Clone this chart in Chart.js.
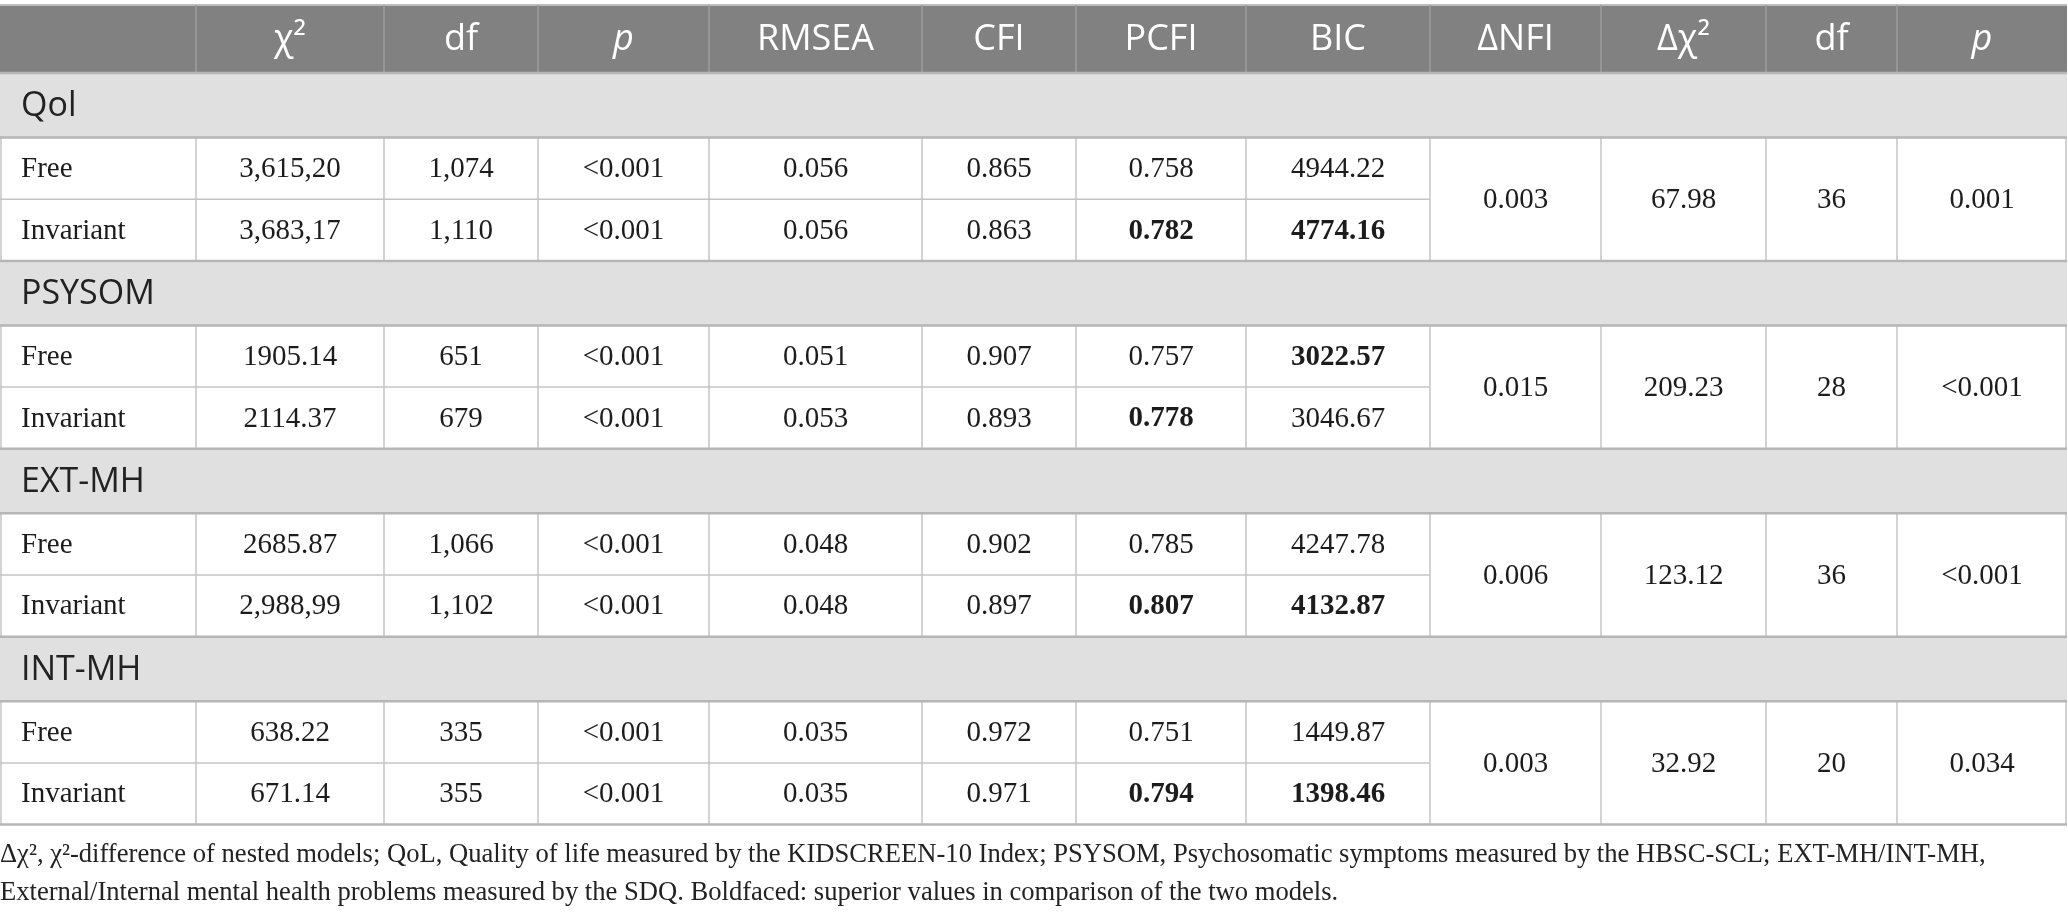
<!DOCTYPE html>
<html>
<head>
<meta charset="utf-8">
<script src="https://cdn.jsdelivr.net/npm/chart.js@4.4.0/dist/chart.umd.min.js"></script>
<style>
  html, body { margin: 0; padding: 0; background: #fff; }
  canvas { display: block; }
</style>
</head>
<body>
<canvas id="myChart" width="2068" height="924"></canvas>
<script>
// Table content
var headers = ['', 'χ²', 'df', 'p', 'RMSEA', 'CFI', 'PCFI', 'BIC', 'ΔNFI', 'Δχ²', 'df', 'p'];
var italicHeaders = [3, 11];
var groups = ['Qol', 'PSYSOM', 'EXT-MH', 'INT-MH'];
var models = ['Free', 'Invariant'];

var chiSq = [['3,615,20', '3,683,17'], ['1905.14', '2114.37'], ['2685.87', '2,988,99'], ['638.22', '671.14']];
var df = [['1,074', '1,110'], ['651', '679'], ['1,066', '1,102'], ['335', '355']];
var pValue = [['<0.001', '<0.001'], ['<0.001', '<0.001'], ['<0.001', '<0.001'], ['<0.001', '<0.001']];
var rmsea = [['0.056', '0.056'], ['0.051', '0.053'], ['0.048', '0.048'], ['0.035', '0.035']];
var cfi = [['0.865', '0.863'], ['0.907', '0.893'], ['0.902', '0.897'], ['0.972', '0.971']];
var pcfi = [['0.758', '0.782'], ['0.757', '0.778'], ['0.785', '0.807'], ['0.751', '0.794']];
var bic = [['4944.22', '4774.16'], ['3022.57', '3046.67'], ['4247.78', '4132.87'], ['1449.87', '1398.46']];
// index of the boldfaced (superior) model per group
var pcfiBest = [1, 1, 1, 1];
var bicBest = [1, 0, 1, 1];

var deltaNfi = ['0.003', '0.015', '0.006', '0.003'];
var deltaChiSq = ['67.98', '209.23', '123.12', '32.92'];
var deltaDf = ['36', '28', '36', '20'];
var deltaP = ['0.001', '<0.001', '<0.001', '0.034'];

var footnote = [
  'Δχ², χ²-difference of nested models; QoL, Quality of life measured by the KIDSCREEN-10 Index; PSYSOM, Psychosomatic symptoms measured by the HBSC-SCL; EXT-MH/INT-MH,',
  'External/Internal mental health problems measured by the SDQ. Boldfaced: superior values in comparison of the two models.'
];

// layout (in scale units, 1 unit = 1 px)
var colEdges = [0, 196, 384, 538, 709, 922, 1076, 1246, 1430, 1601, 1766, 1897, 2067];
var tableTop = 5;
var headerH = 68;
var sectionH = 64.5;
var rowH = 61.7;

var sansFont = '"Open Sans", "Noto Sans", sans-serif';
var serifFont = '"Liberation Serif", "DejaVu Serif", serif';

var tablePlugin = {
  id: 'tableDraw',
  afterDraw: function(chart) {
    var ctx = chart.ctx;
    var xs = chart.scales.x, ys = chart.scales.y;
    function X(v) { return xs.getPixelForValue(v); }
    function Y(v) { return ys.getPixelForValue(v); }
    function rect(x0, y0, x1, y1, color) {
      ctx.fillStyle = color;
      ctx.fillRect(X(x0), Y(y0), X(x1) - X(x0), Y(y1) - Y(y0));
    }
    function line(x0, y0, x1, y1, color, w) {
      ctx.strokeStyle = color;
      ctx.lineWidth = w;
      ctx.beginPath();
      ctx.moveTo(X(x0), Y(y0));
      ctx.lineTo(X(x1), Y(y1));
      ctx.stroke();
    }
    function text(str, x, y, font, color, align) {
      ctx.font = font;
      ctx.fillStyle = color;
      ctx.textAlign = align || 'center';
      ctx.textBaseline = 'middle';
      ctx.fillText(str, X(x), Y(y));
    }
    function mid(c) { return (colEdges[c] + colEdges[c + 1]) / 2; }
    var left = colEdges[0], right = colEdges[colEdges.length - 1];

    ctx.save();
    // header
    var hb = tableTop + headerH;
    rect(left, tableTop, right, hb, '#808180');
    line(left, tableTop, right, tableTop, '#bdbdbd', 2);
    for (var c = 1; c < colEdges.length - 1; c++) {
      line(colEdges[c], tableTop, colEdges[c], hb, '#9d9e9d', 1.5);
    }
    for (var h = 1; h < headers.length; h++) {
      var st = italicHeaders.indexOf(h) >= 0 ? 'italic ' : '';
      text(headers[h], mid(h), tableTop + headerH / 2 + 1, st + '400 36px ' + sansFont, '#ffffff');
    }

    var y = hb;
    var dataFont = '400 29px ' + serifFont;
    var boldFont = '700 29px ' + serifFont;
    var ink = '#1c1c1c';
    for (var g = 0; g < groups.length; g++) {
      // section row
      rect(left, y, right, y + sectionH, '#e1e0e1');
      text(groups[g], 21, y + sectionH / 2 + 1, '400 34px ' + sansFont, '#222222', 'left');
      var r0 = y + sectionH;
      var r1 = r0 + rowH;
      var r2 = r1 + rowH;
      // grid of the data block
      line(left, r1, colEdges[8], r1, '#c4c4c4', 1.5);
      for (var c2 = 0; c2 < colEdges.length; c2++) {
        var ex = colEdges[c2];
        if (c2 === 0) ex += 1;
        if (c2 === colEdges.length - 1) ex -= 1;
        line(ex, r0, ex, r2, '#c4c4c4', 1.5);
      }
      line(left, y, right, y, '#b6b6b6', 2.5);
      line(left, r0, right, r0, '#b6b6b6', 2.5);
      // model rows
      for (var m = 0; m < models.length; m++) {
        var cy = r0 + rowH * m + rowH / 2 + 1;
        text(models[m], 21, cy, dataFont, ink, 'left');
        var vals = [chiSq[g][m], df[g][m], pValue[g][m], rmsea[g][m], cfi[g][m]];
        for (var k = 0; k < vals.length; k++) text(vals[k], mid(k + 1), cy, dataFont, ink);
        text(pcfi[g][m], mid(6), cy, pcfiBest[g] === m ? boldFont : dataFont, ink);
        text(bic[g][m], mid(7), cy, bicBest[g] === m ? boldFont : dataFont, ink);
      }
      // merged comparison cells
      var my = r0 + rowH + 1;
      text(deltaNfi[g], mid(8), my, dataFont, ink);
      text(deltaChiSq[g], mid(9), my, dataFont, ink);
      text(deltaDf[g], mid(10), my, dataFont, ink);
      text(deltaP[g], mid(11), my, dataFont, ink);
      y = r2;
    }
    line(left, y, right, y, '#b6b6b6', 2.5);

    // footnote
    text(footnote[0], 0, y + 30, '400 26.6px ' + serifFont, '#222222', 'left');
    text(footnote[1], 0, y + 68, '400 26.6px ' + serifFont, '#222222', 'left');
    ctx.restore();
  }
};

var ctx = document.getElementById('myChart').getContext('2d');
var chart = new Chart(ctx, {
  type: 'scatter',
  data: { datasets: [] },
  options: {
    responsive: false,
    animation: false,
    devicePixelRatio: 1,
    layout: { padding: 0 },
    plugins: { legend: { display: false }, tooltip: { enabled: false } },
    scales: {
      x: { type: 'linear', min: 0, max: 2068, display: false },
      y: { type: 'linear', min: 0, max: 924, reverse: true, display: false }
    }
  },
  plugins: [tablePlugin]
});
</script>
</body>
</html>
